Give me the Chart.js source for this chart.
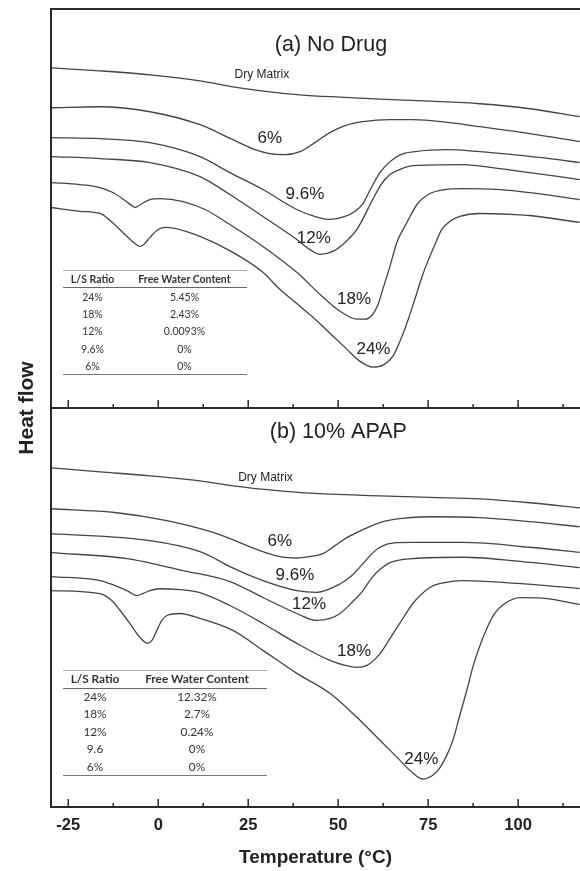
<!DOCTYPE html>
<html>
<head>
<meta charset="utf-8">
<title>DSC thermograms</title>
<script src="https://cdn.jsdelivr.net/npm/chart.js@4.4.1/dist/chart.umd.min.js"></script>
<style>
  html, body { margin: 0; padding: 0; background: #fff; overflow: hidden; }
  #wrap { position: relative; width: 580px; height: 871px; }
  #dsc { position: absolute; left: 0; top: 0; }
  .ls { position: absolute; left: 63px; border-collapse: collapse; table-layout: fixed;
        font-family: Lato, "Noto Sans", sans-serif; color: #333;
        border-top: 1px solid #aaa; border-bottom: 1.5px solid #777; }
  .ls th, .ls td { padding: 0; text-align: center; white-space: nowrap; line-height: 1; }
  .ls th { font-weight: bold; border-bottom: 1.5px solid #666; }
  #tabA { top: 270px; width: 184px; font-size: 10.5px; }
  #tabA tr { height: 17.4px; }
  #tabB { top: 670px; width: 204px; font-size: 11.8px; }
  #tabB tr { height: 17.5px; }
</style>
</head>
<body>
<div id="wrap">
  <canvas id="dsc" width="580" height="871"></canvas>
  <table id="tabA" class="ls"></table>
  <table id="tabB" class="ls"></table>
</div>
<script>
// [temperature °C, heat flow (a.u., traces offset)]
// (a) no drug
const noDrugDry = [[-29.8,85.25],[-16.2,84.5],[-2.3,83.5],[11.6,82],[20.75,80.5],[31,79.25],[39.4,78.5],[50.5,77.9],[61.6,77.4],[75.5,76.9],[89.4,76.25],[103.25,75],[117.1,73]];
const noDrug6 = [[-29.8,75.25],[-16.2,75.5],[-2.3,74.25],[11.6,71],[20.75,67.25],[26.9,64.75],[31,63.75],[35.2,63.5],[39.4,64.25],[43.5,66.5],[47.7,69],[51.9,70.75],[56.9,71.75],[64.4,72.25],[70.75,72.25],[81,71.5],[89.4,70.5],[103.25,68.75],[117.1,66.75]];
const noDrug96 = [[-29.8,67.75],[-16.2,67.5],[-2.3,66.5],[11.6,63],[19.9,59],[29.1,54.75],[38.5,49.75],[43.5,48],[47.7,47.25],[51.9,48],[54.6,49.25],[56.9,51.25],[58.8,54.5],[61.6,59],[64.4,61.75],[67.1,63.4],[71.3,64.25],[80.2,64.75],[89.4,64.25],[98.5,63.5],[108.8,62.5],[117.1,61.5]];
const noDrug12 = [[-29.8,63],[-16.2,62.5],[-2.3,61.5],[11.6,58],[19.9,53.5],[29.1,48],[38.5,42.25],[42.1,39.75],[44.9,38.5],[48.5,39.25],[51.9,41.5],[55.2,44.75],[59.6,52.25],[61.9,56],[64.4,58.5],[67.1,59.75],[70.75,60.75],[84.6,61],[94.9,60],[103.25,59],[117.1,57.25]];
const noDrug18 = [[-29.8,56.5],[-21.8,56],[-16.2,55.25],[-12.6,54],[-9.25,52],[-7,50.5],[-6.5,50.25],[-4.5,51.25],[-2.3,52.25],[0.5,52.5],[6.9,51.75],[13,49.75],[19.9,46],[29.1,40.5],[38.5,34],[44.9,28.5],[50.5,24.25],[55.2,22.25],[57.4,22.25],[59.4,23.25],[61,25.75],[62.4,29.75],[64.4,35.5],[66.3,41.5],[69.1,46.5],[72.1,51.25],[75.5,53.75],[79.6,54.75],[84.6,55],[94.9,54.75],[103.25,54],[117.1,52.25]];
const noDrug24 = [[-29.8,50.25],[-21.8,49.3],[-16.2,48.75],[-13.4,47],[-9.25,43.5],[-6.5,41.25],[-5.1,40.5],[-4,41],[-2.3,42.75],[-0.4,44.5],[1.9,45.25],[4.6,45],[11.6,43],[20.75,39],[29.1,34],[33.8,29.75],[39.4,25.5],[43,22.75],[47.7,18.75],[52.4,14.75],[56,11.75],[59.6,10.25],[62.4,10.75],[65.2,13],[68.5,19.75],[71.3,27.25],[73.25,32.75],[74.9,36.75],[76.9,41],[78.8,44.75],[81,46.75],[83.8,48],[89.4,48.75],[98.5,48.5],[103.25,48.25],[117.1,46.5]];

// (b) 10% APAP
const apapDry = [[-29.8,85],[-16.2,84],[-2.3,83],[11.6,81.75],[20.75,80.5],[33.8,79.25],[47.7,78.4],[61.6,78],[75.5,77.6],[89.4,77.2],[103.25,76.25],[117.1,75]];
const apap6 = [[-29.8,74.75],[-11.5,73.75],[2.4,71.75],[16.3,68.5],[28.25,64.25],[34.6,62.6],[38.5,62.4],[42.1,62.75],[45.75,63.5],[49.1,65.5],[52.4,67.5],[56.9,69.5],[61.6,71.25],[67.1,72.25],[75.5,72.75],[89.4,72.5],[103.25,71.5],[117.1,70.25]];
const apap96 = [[-29.8,68.5],[-2.3,66.75],[11.6,64],[16.3,62],[19.9,60.25],[29.1,56.75],[38.5,54.25],[44.1,53.8],[50.5,55.9],[53.8,58],[56.9,61],[59.4,63.5],[61.6,65.1],[66.3,66.25],[70.75,66.3],[84.6,66.3],[103.25,65.1],[117.1,63.8]];
const apap12 = [[-29.8,63.75],[-8.7,62.25],[6.9,59.25],[19.9,56.5],[29.1,52.5],[38.5,48.5],[44.1,46.75],[47.7,47.25],[50.5,48.5],[53.8,51.25],[56.9,54.25],[59.4,57.5],[61.6,59.5],[64.4,61.25],[70.75,62.25],[84.6,62.6],[103.25,61.3],[117.1,60]];
const apap18 = [[-29.8,57.75],[-16.2,56.75],[-12,55.5],[-8.7,54.25],[-5.9,53],[-4.25,53.5],[-2.3,54.25],[0.5,54.7],[6,54.5],[11.6,53.75],[19.9,50.5],[29.1,46],[38.5,41],[47.7,36.75],[51.9,35.5],[55.2,35],[58,35.5],[60.2,37],[62.1,39],[64.4,42.25],[67.1,46],[70.75,51],[75.5,55],[79.6,56.25],[84.6,56.75],[98.5,56.1],[117.1,54.75]];
const apap24 = [[-29.8,54.25],[-16.2,53.5],[-12.9,51.75],[-10.6,49.25],[-7.9,46],[-5.1,42.5],[-2.9,41],[-1.75,41.75],[-0.4,44.25],[1,46.75],[2.4,48],[6,48.5],[11.6,47.25],[20.75,44.25],[29.1,39.25],[38.5,33.5],[47.7,28.5],[54.6,23],[61.6,16.75],[67.1,11.75],[70.75,8.5],[73.5,7],[76,7.75],[78.2,9.75],[80.2,13],[81.9,16.75],[83.8,23],[85.75,29.25],[87.4,35],[89.4,40.5],[91.3,44.75],[93.5,48.5],[96.3,51],[100.5,52.5],[108,52.25],[117.1,50.75]];

// curve labels: [text, temperature, heat flow]
const noDrugNotes = [['6%', 31, 67.5], ['9.6%', 40.75, 53.5], ['12%', 43.25, 42.6], ['18%', 54.4, 27.25], ['24%', 59.8, 14.75]];
const apapNotes = [['6%', 33.8, 66.5], ['9.6%', 38, 58], ['12%', 41.9, 50.9], ['18%', 54.4, 38.9], ['24%', 73.1, 12]];
const dryNotes = [['Dry Matrix', 28.8, 83.5, 'yA'], ['Dry Matrix', 29.8, 82.5, 'yB']];
const panelTitles = [['(a) No Drug', 32.4, 91, 'yA'], ['(b) 10% APAP', 31, 94, 'yB']];

// inset tables
const tableHead = ['L/S Ratio', 'Free Water Content'];
const noDrugRatio = ['24%', '18%', '12%', '9.6%', '6%'];
const noDrugWater = ['5.45%', '2.43%', '0.0093%', '0%', '0%'];
const apapRatio = ['24%', '18%', '12%', '9.6', '6%'];
const apapWater = ['12.32%', '2.7%', '0.24%', '0%', '0%'];

function fillTable(id, ratio, water, firstCol) {
  const t = document.getElementById(id);
  let html = '<colgroup><col style="width:' + firstCol + 'px"><col></colgroup>';
  html += '<tr><th>' + tableHead[0] + '</th><th>' + tableHead[1] + '</th></tr>';
  ratio.forEach((r, i) => { html += '<tr><td>' + r + '</td><td>' + water[i] + '</td></tr>'; });
  t.innerHTML = html;
}
fillTable('tabA', noDrugRatio, noDrugWater, 59);
fillTable('tabB', apapRatio, apapWater, 64);

const traceColor = '#444';
function trace(points, axis) {
  return {
    data: points.map(p => ({x: p[0], y: p[1]})),
    yAxisID: axis,
    borderColor: traceColor,
    borderWidth: 1.3,
    pointRadius: 0,
    fill: false,
    cubicInterpolationMode: 'monotone',
  };
}

const framePlugin = {
  id: 'frame',
  afterDatasetsDraw(chart) {
    const {ctx, chartArea: a, scales: {x, yA, yB}} = chart;
    const mid = yA.bottom;
    ctx.save();
    ctx.strokeStyle = '#2a2a2a';
    ctx.lineWidth = 2;
    ctx.beginPath();
    ctx.moveTo(a.right, a.top);
    ctx.lineTo(a.left, a.top);
    ctx.lineTo(a.left, a.bottom);
    ctx.lineTo(a.right, a.bottom);
    ctx.moveTo(a.left, mid);
    ctx.lineTo(a.right, mid);
    ctx.stroke();

    // inward ticks, major on labelled values, minor half way
    const major = x.ticks.map(t => t.value);
    const step = major[1] - major[0];
    ctx.lineWidth = 1.5;
    ctx.beginPath();
    [mid, a.bottom].forEach(base => {
      major.forEach(v => {
        [[v, 8], [v + step / 2, 4]].forEach(([val, len]) => {
          if (val > x.max) return;
          const px = x.getPixelForValue(val);
          ctx.moveTo(px, base);
          ctx.lineTo(px, base - len);
        });
      });
    });
    ctx.stroke();

    // curve labels
    ctx.fillStyle = '#222';
    ctx.textAlign = 'center';
    ctx.textBaseline = 'middle';
    ctx.font = '17px "Liberation Sans", Arial, sans-serif';
    noDrugNotes.forEach(([t, vx, vy]) => ctx.fillText(t, x.getPixelForValue(vx), yA.getPixelForValue(vy)));
    apapNotes.forEach(([t, vx, vy]) => ctx.fillText(t, x.getPixelForValue(vx), yB.getPixelForValue(vy)));
    ctx.font = '12px "Liberation Sans", Arial, sans-serif';
    dryNotes.forEach(([t, vx, vy, ax]) => ctx.fillText(t, x.getPixelForValue(vx), chart.scales[ax].getPixelForValue(vy)));

    ctx.textAlign = 'left';
    ctx.font = '21.5px "Liberation Sans", Arial, sans-serif';
    panelTitles.forEach(([t, vx, vy, ax]) => ctx.fillText(t, x.getPixelForValue(vx), chart.scales[ax].getPixelForValue(vy)));

    // shared y title
    ctx.translate(a.left - 24, mid);
    ctx.rotate(-Math.PI / 2);
    ctx.textAlign = 'center';
    ctx.font = 'bold 21px "Liberation Sans", Arial, sans-serif';
    ctx.fillText('Heat flow', 0, 0);
    ctx.restore();
  }
};

const hiddenY = (w) => ({
  type: 'linear', display: false, min: 0, max: 100,
  stack: 'panels', stackWeight: 1, weight: w,
});

new Chart(document.getElementById('dsc'), {
  type: 'line',
  data: {
    datasets: [
      trace(noDrugDry, 'yA'), trace(noDrug6, 'yA'), trace(noDrug96, 'yA'),
      trace(noDrug12, 'yA'), trace(noDrug18, 'yA'), trace(noDrug24, 'yA'),
      trace(apapDry, 'yB'), trace(apap6, 'yB'), trace(apap96, 'yB'),
      trace(apap12, 'yB'), trace(apap18, 'yB'), trace(apap24, 'yB'),
    ],
  },
  options: {
    responsive: false,
    animation: false,
    devicePixelRatio: 1,
    layout: { padding: { left: 51, top: 9, right: 0, bottom: 0 } },
    plugins: { legend: { display: false }, tooltip: { enabled: false } },
    scales: {
      x: {
        type: 'linear',
        min: -29.8,
        max: 117.2,
        grid: { display: false, drawTicks: false },
        border: { display: false },
        ticks: {
          stepSize: 25,
          includeBounds: false,
          autoSkip: false,
          maxRotation: 0,
          padding: 8.1,
          color: '#222',
          font: { family: '"Liberation Sans", Arial, sans-serif', size: 16.5, weight: 'bold' },
        },
        title: {
          display: true,
          text: 'Temperature (°C)',
          color: '#222',
          padding: { top: 3.6, bottom: 1.6 },
          font: { family: '"Liberation Sans", Arial, sans-serif', size: 19, weight: 'bold' },
        },
      },
      yB: hiddenY(0),
      yA: hiddenY(1),
    },
  },
  plugins: [framePlugin],
});
</script>
</body>
</html>
